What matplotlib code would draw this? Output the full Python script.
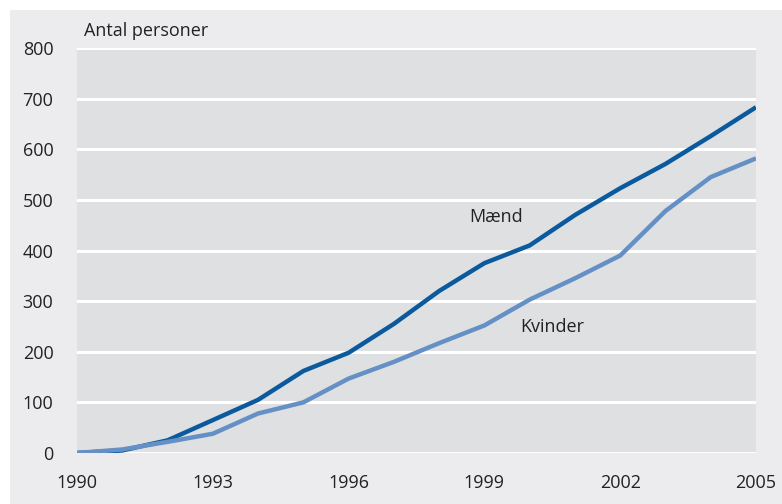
import numpy as np
import matplotlib.pyplot as plt
from matplotlib.patches import Rectangle

years = np.arange(1990, 2006)
maend = [0, 5, 25, 65, 105, 162, 198, 255, 320, 375, 410, 470, 523, 571, 626, 683]
kvinder = [0, 7, 22, 38, 78, 100, 147, 180, 217, 252, 303, 345, 390, 478, 545, 582]
xticks = [1990, 1993, 1996, 1999, 2002, 2005]
yticks = [0, 100, 200, 300, 400, 500, 600, 700, 800]

plt.rcParams['font.family'] = ['Open Sans', 'DejaVu Sans']

fig = plt.figure(figsize=(7.82, 5.04), dpi=100)
fig.patch.set_facecolor('white')
fig.patches.append(Rectangle((10 / 782, 0), 1, 1 - 10 / 504, transform=fig.transFigure,
                             facecolor='#ececee', edgecolor='none', zorder=-10))

ax = fig.add_axes([77 / 782, 1 - 453 / 504, 679 / 782, 405 / 504])
ax.set_facecolor('#dfe0e2')
ax.plot(years, maend, color='#0b5a9e', linewidth=3.2, solid_capstyle='butt', zorder=3)
ax.plot(years, kvinder, color='#6590c6', linewidth=3.2, solid_capstyle='butt', zorder=3)

ax.set_xlim(1990, 2005)
ax.set_ylim(0, 800)
ax.set_xticks(xticks)
ax.set_yticks(yticks)
ax.tick_params(length=0, labelsize=13, colors='#222222')
ax.tick_params(axis='x', pad=15)
ax.tick_params(axis='y', pad=17)
for s in ax.spines.values():
    s.set_visible(False)
ax.grid(axis='y', color='white', linewidth=2.2)
ax.set_axisbelow(True)

ax.text(1999.25, 466, 'Mænd', fontsize=13, color='#222222', ha='center', va='center')
ax.text(2000.5, 248, 'Kvinder', fontsize=13, color='#222222', ha='center', va='center')
ax.text(1990.15, 833, 'Antal personer', fontsize=13, color='#222222', ha='left', va='center',
        clip_on=False)

fig.savefig('out.png', dpi=100, facecolor=fig.get_facecolor())
